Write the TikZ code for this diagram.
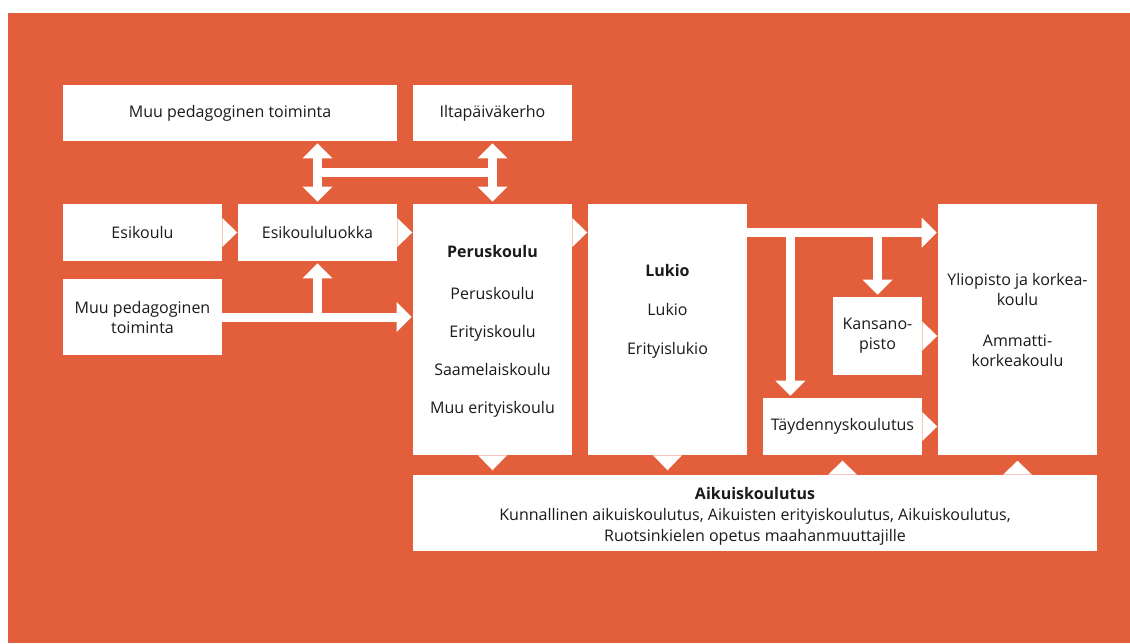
\documentclass[tikz,border=0pt]{standalone}
\usepackage{fontspec}
\setmainfont{Open Sans}
\usetikzlibrary{positioning,arrows.meta,calc}
\definecolor{kouluorange}{HTML}{E35E3B}
\definecolor{kouluink}{HTML}{1A1A1A}
\newcommand\boxfont{\fontsize{12}{15}\selectfont}

\begin{document}
\begin{tikzpicture}[x=0.75pt, y=-0.75pt,
  >={Triangle[width=22.5pt 0, length=11.25pt 0, line width=0pt]},
  box/.style={fill=white, inner sep=0pt, align=center, text=kouluink, font=\boxfont,
    minimum width=119.25pt, minimum height=42.75pt},
  txt/.style={inner sep=0pt, align=center, text=kouluink, anchor=north},
  bar/.style={draw=white, line width=6.75pt, shorten >=0.75pt}]
  \newcommand\tabright[1]{
    \fill[white] (#1)++(0,-14.5) -- ++(15,14.5) -- ++(-15,14.5) -- cycle;
  }
  \newcommand\tabdown[1]{
    \fill[white] (#1)++(-14.5,0) -- ++(14.5,15) -- ++(14.5,-15) -- cycle;
  }
  \newcommand\tabup[1]{
    \fill[white] (#1)++(-14.5,0) -- ++(14.5,-14) -- ++(14.5,14) -- cycle;
  }

  \fill[white] (0,0) rectangle (1130,643);
  \useasboundingbox (0,0) rectangle (1130,643);
  \fill[kouluorange] (8,13) rectangle (1130,643);

  % top row
  \node[box, minimum width=250.5pt, minimum height=42pt] (muutop) at (230,113) {Muu pedagoginen toiminta};
  \node[box, minimum height=42pt] (ilta) at (492.5,113) {Iltapäiväkerho};
  % left part
  \node[box] (esik) at (142.5,232.5) {Esikoulu};
  \node[box] (esikl) at (317.5,232.5) {Esikoululuokka};
  \node[box, minimum height=57pt] (muuleft) at (142.5,317) {Muu pedagoginen\\toiminta};
  % tall columns
  \node[box, minimum height=188.25pt] (perus) at (492.5,329.5) {};
  \node[box, minimum height=188.25pt] (lukio) at (667.5,329.5) {};
  \node[box, minimum height=188.25pt] (ylio) at (1017.5,329.5) {};
  \node[box, minimum width=66.75pt, minimum height=58.5pt] (kansa) at (877.5,336) {Kansano-\\pisto};
  \node[box] (tayd) at (842.5,426.5) {Täydennyskoulutus};
  \node[box, minimum width=513pt, minimum height=57pt] (aikuis) at (755,513) {};

  \node[txt, font=\fontsize{12}{28.5}\selectfont] (perustxt) at (492.5,245)
    {\bfseries Peruskoulu\\[3pt]Peruskoulu\\Erityiskoulu\\Saamelaiskoulu\\Muu erityiskoulu};
  \node[txt, font=\fontsize{12}{29.25}\selectfont] (lukiotxt) at (667.5,264)
    {\bfseries Lukio\\Lukio\\Erityislukio};
  \node[txt, font=\boxfont] (yliotxt) at (1017.5,273)
    {Yliopisto ja korkea-\\koulu\\[15.75pt]Ammatti-\\korkeakoulu};
  \node[txt, anchor=center, font=\fontsize{12}{15.75}\selectfont] (aikuistxt) at (755,516.5)
    {\bfseries Aikuiskoulutus\\Kunnallinen aikuiskoulutus, Aikuisten erityiskoulutus, Aikuiskoulutus,\\Ruotsinkielen opetus maahanmuuttajille};

  % tabs
  \tabright{esik.east}
  \tabright{esikl.east}
  \tabright{perus.east |- esik.east}
  \tabright{kansa.east}
  \tabright{tayd.east}
  \tabdown{perus.south}
  \tabdown{lukio.south}
  \tabup{tayd.south |- aikuis.north}
  \tabup{ylio.south |- aikuis.north}

  % arrows
  \draw[bar, <->, shorten <=1.5pt, shorten >=1.5pt] (esikl.north) -- (esikl.north |- muutop.south);
  \draw[bar, <->, shorten <=1.5pt, shorten >=1.5pt] (perus.north) -- (ilta.south);
  \coordinate (m1) at ($(esikl.north)!0.5!(esikl.north |- muutop.south)$);
  \coordinate (m2) at (m1 -| perus.north);
  \draw[bar, shorten >=0pt] (m1) -- (m2);
  %
  \draw[bar, ->] (muuleft.east) -- (muuleft.east -| perus.west);
  \coordinate (j1) at (muuleft.east -| esikl.south);
  \draw[bar, ->, shorten >=1.5pt] (j1) -- (esikl.south);
  %
  \coordinate (l0) at (lukio.east |- esik.east);
  \coordinate (l1) at ($(l0)+(43,0)$);
  \coordinate (l2) at (l0 -| kansa.north);
  \draw[bar, ->] (l0) -- (l0 -| ylio.west);
  \draw[bar, ->, shorten >=1.5pt] (l1) -- (l1 |- tayd.north);
  \draw[bar, ->, shorten >=1.5pt] (l2) -- (kansa.north);
\end{tikzpicture}
\end{document}
